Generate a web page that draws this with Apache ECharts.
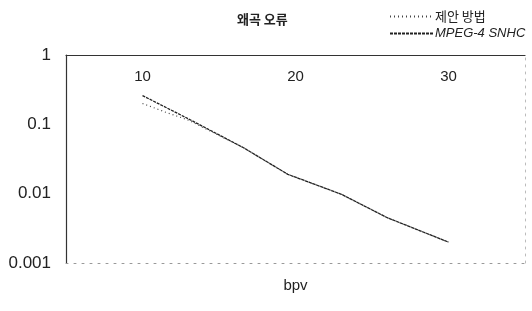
<!DOCTYPE html>
<html>
<head>
<meta charset="utf-8">
<script src="https://cdn.jsdelivr.net/npm/echarts@6/dist/echarts.min.js"></script>
<style>
  html, body { margin: 0; padding: 0; background: #fff; }
  #chart { width: 532px; height: 311px; }
</style>
</head>
<body>
<div id="chart"></div>
<script>
  // 왜곡 오류 vs bpv
  const xTicks = [10, 20, 30];
  const yTicks = [0.001, 0.01, 0.1, 1];
  const propBpv = [10, 11.5, 13, 16.6, 19.5, 23, 26, 30];
  const propErr = [0.2, 0.15, 0.115, 0.046, 0.019, 0.0098, 0.0045, 0.002];
  const snhcBpv = [10, 13, 16.6, 19.5, 23, 26, 30];
  const snhcErr = [0.26, 0.12, 0.046, 0.019, 0.0098, 0.0045, 0.002];

  const zip = (xs, ys) => xs.map((x, i) => [x, ys[i]]);

  const myChart = echarts.init(document.getElementById('chart'));
  myChart.setOption({
    animation: false,
    title: {
      text: '왜곡 오류',
      left: 232,
      top: 8,
      textStyle: { fontFamily: 'Noto Sans CJK KR', fontSize: 13, fontWeight: 'bold', color: '#222' }
    },
    legend: {
      orient: 'vertical',
      left: 384,
      top: 5,
      itemWidth: 44,
      itemHeight: 8,
      itemGap: 4,
      itemStyle: { opacity: 0 },
      textStyle: { fontFamily: 'Noto Sans CJK KR', fontSize: 13, color: '#222', padding: [0, 0, 0, -4] },
      data: [
        { name: '제안 방법' },
        { name: 'MPEG-4 SNHC', textStyle: { fontFamily: 'Liberation Sans', fontStyle: 'italic' } }
      ]
    },
    grid: { left: 66, right: 7, top: 55, bottom: 48 },
    xAxis: [{
      type: 'value',
      position: 'top',
      min: 5,
      max: 35,
      axisLine: { show: true, lineStyle: { color: '#333', width: 1.2 } },
      axisTick: { show: false },
      splitLine: { show: false },
      axisLabel: {
        inside: true,
        margin: 14,
        customValues: xTicks,
        fontFamily: 'Liberation Sans',
        fontSize: 15,
        color: '#222'
      }
    }, {
      type: 'value',
      position: 'bottom',
      min: 5,
      max: 35,
      name: 'bpv',
      nameLocation: 'middle',
      nameGap: 15,
      nameTextStyle: { fontFamily: 'Liberation Sans', fontSize: 15, color: '#222' },
      axisLine: { show: true, lineStyle: { color: '#999', width: 1, type: [2, 6] } },
      axisTick: { show: false },
      axisLabel: { show: false },
      splitLine: { show: false }
    }],
    yAxis: [{
      type: 'log',
      logBase: 10,
      min: 0.001,
      max: 1,
      axisLine: { show: true, lineStyle: { color: '#333', width: 1.2 } },
      axisTick: { show: false },
      splitLine: { show: false },
      axisLabel: {
        margin: 15,
        customValues: yTicks,
        fontFamily: 'Liberation Sans',
        fontSize: 17,
        color: '#222',
        formatter: v => String(v)
      }
    }, {
      type: 'log',
      position: 'right',
      min: 0.001,
      max: 1,
      axisLine: { show: true, lineStyle: { color: '#bbb', width: 1, type: [2, 5] } },
      axisTick: { show: false },
      axisLabel: { show: false },
      splitLine: { show: false }
    }],
    series: [{
      name: '제안 방법',
      type: 'line',
      showSymbol: false,
      symbol: 'none',
      lineStyle: { color: '#444', width: 1.2, type: [1, 3] },
      itemStyle: { color: '#444' },
      data: zip(propBpv, propErr)
    }, {
      name: 'MPEG-4 SNHC',
      type: 'line',
      showSymbol: false,
      symbol: 'none',
      lineStyle: { color: '#222', width: 1.3, type: [3, 1] },
      itemStyle: { color: '#222' },
      data: zip(snhcBpv, snhcErr)
    }]
  });
</script>
</body>
</html>
